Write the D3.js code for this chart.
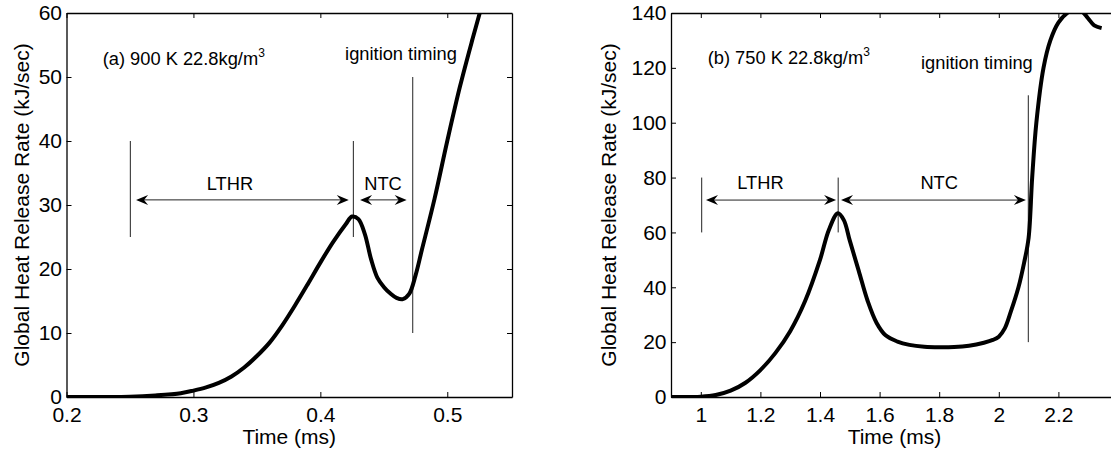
<!DOCTYPE html>
<html>
<head>
<meta charset="utf-8">
<script src="https://cdn.jsdelivr.net/npm/d3@7"></script>
<style>
body { margin: 0; background: #fff; }
svg { display: block; font-family: "Liberation Sans", Arial, sans-serif; }
</style>
</head>
<body>
<svg id="chart" width="1111" height="454"></svg>
<script>

// ---- panel (a) 900 K ----
var timeA = [0.20, 0.23, 0.25, 0.27, 0.29, 0.30, 0.31, 0.32, 0.33, 0.34, 0.35, 0.36, 0.37, 0.38, 0.39,
	0.40, 0.41, 0.42, 0.425, 0.43, 0.435, 0.44, 0.445, 0.45, 0.455, 0.46, 0.465, 0.47, 0.475, 0.48,
	0.49, 0.50, 0.51, 0.52, 0.527];
var hrrA = [0, 0, 0.05, 0.25, 0.6, 1.0, 1.5, 2.2, 3.2, 4.6, 6.4, 8.5, 11.2, 14.3, 17.6,
	21.0, 24.2, 27.0, 28.2, 27.8, 25.5, 21.5, 18.6, 17.2, 16.2, 15.5, 15.3, 16.1, 19.0, 23,
	31, 40, 48.5, 56, 61];
var xTicksA = [0.2, 0.3, 0.4, 0.5];
var xLabelsA = ["0.2", "0.3", "0.4", "0.5"];
var yTicksA = [0, 10, 20, 30, 40, 50, 60];
var yLabelsA = ["0", "10", "20", "30", "40", "50", "60"];
var markTimesA = [0.2503, 0.426, 0.4728];
var markSpansA = [[25, 40], [25, 40], [10, 50]];
var arrowsA = [[0.2548, 0.4224], [0.4313, 0.468]];
var arrowLevelA = 30.8;
var arrowTextA = ["LTHR", "NTC"];
var arrowTextPosA = [[0.3288, 32.4], [0.4494, 32.4]];
var titleA = "(a) 900 K 22.8kg/m";
var titlePosA = [0.2285, 51.9];
var ignPosA = [0.4195, 52.7];

// ---- panel (b) 750 K ----
var timeB = [0.90, 1.00, 1.05, 1.10, 1.15, 1.20, 1.25, 1.30, 1.35, 1.40, 1.43, 1.46, 1.48, 1.50, 1.53,
	1.56, 1.59, 1.62, 1.66, 1.70, 1.75, 1.80, 1.85, 1.90, 1.95, 1.98, 2.00, 2.02, 2.04, 2.066,
	2.085, 2.10, 2.112, 2.126, 2.15, 2.173, 2.20, 2.23, 2.26, 2.28, 2.30, 2.32, 2.345];
var hrrB = [0, 0.1, 0.7, 2.3, 5.2, 9.8, 16, 24, 35, 50, 61, 67, 64.5, 57, 46,
	35, 27, 22.5, 20.2, 19, 18.3, 18.1, 18.2, 18.7, 19.8, 20.8, 22, 25, 31, 40,
	49, 58, 80, 100, 120, 130, 136.5, 140, 141.5, 140.5, 138, 135.5, 134.5];
var xTicksB = [1, 1.2, 1.4, 1.6, 1.8, 2, 2.2];
var xLabelsB = ["1", "1.2", "1.4", "1.6", "1.8", "2", "2.2"];
var yTicksB = [0, 20, 40, 60, 80, 100, 120, 140];
var yLabelsB = ["0", "20", "40", "60", "80", "100", "120", "140"];
var markTimesB = [1.003, 1.461, 2.099];
var markSpansB = [[60, 80], [60, 80], [20, 110]];
var arrowsB = [[1.0174, 1.454], [1.4705, 2.091]];
var arrowLevelB = 71.8;
var arrowTextB = ["LTHR", "NTC"];
var arrowTextPosB = [[1.2003, 75.7], [1.8, 75.7]];
var titleB = "(b) 750 K 22.8kg/m";
var titlePosB = [1.023, 121.3];
var ignPosB = [1.739, 119.5];

var svg = d3.select("#chart");
svg.append("rect").attr("width", 1111).attr("height", 454).attr("fill", "#fff");

var TOP = 13, BOTTOM = 397;

function arrowHead(tx, ty, dir) {
	var L = 12, W = 5, N = 8;
	return "M" + tx + "," + ty +
		"L" + (tx - dir * L) + "," + (ty - W) +
		"L" + (tx - dir * N) + "," + ty +
		"L" + (tx - dir * L) + "," + (ty + W) + "Z";
}

function drawPanel(p) {
	var g = svg.append("g");
	var x = d3.scaleLinear().domain(p.xDomain).range([p.left, p.right]);
	var y = d3.scaleLinear().domain(p.yDomain).range([BOTTOM, TOP]);

	g.append("clipPath").attr("id", p.id)
		.append("rect")
		.attr("x", p.left).attr("y", TOP)
		.attr("width", p.right - p.left).attr("height", BOTTOM - TOP);

	// axes, ticks inward on all four sides
	var bottom = g.append("g").attr("transform", "translate(0," + BOTTOM + ")")
		.call(d3.axisBottom(x).tickValues(p.xTicks)
			.tickFormat(function(d, i) { return p.xLabels[i]; })
			.tickSizeInner(-5).tickSizeOuter(0).tickPadding(10));
	var left = g.append("g").attr("transform", "translate(" + p.left + ",0)")
		.call(d3.axisLeft(y).tickValues(p.yTicks)
			.tickFormat(function(d, i) { return p.yLabels[i]; })
			.tickSizeInner(-5).tickSizeOuter(0).tickPadding(4.5));
	var top = g.append("g").attr("transform", "translate(0," + TOP + ")")
		.call(d3.axisTop(x).tickValues(p.xTicks).tickFormat("")
			.tickSizeInner(-5).tickSizeOuter(0));
	var right = g.append("g").attr("transform", "translate(" + p.right + ",0)")
		.call(d3.axisRight(y).tickValues(p.yTicks).tickFormat("")
			.tickSizeInner(-5).tickSizeOuter(0));

	[bottom, left, top, right].forEach(function(a) {
		a.attr("font-size", 21).attr("font-family", null);
		a.select(".domain").attr("stroke-width", 1.3);
		a.selectAll(".tick line").attr("stroke-width", 1);
		a.selectAll(".tick text").attr("fill", "#000");
	});

	// axis titles
	g.append("text")
		.attr("x", (p.left + p.right) / 2).attr("y", 444)
		.attr("text-anchor", "middle").attr("font-size", 21)
		.text("Time (ms)");
	g.append("text")
		.attr("transform", "translate(" + p.yTitleX + "," + (TOP + BOTTOM) / 2 + ") rotate(-90)")
		.attr("text-anchor", "middle").attr("font-size", 21)
		.text("Global Heat Release Rate (kJ/sec)");

	// vertical markers
	g.selectAll("line.mark").data(p.markTimes).enter().append("line")
		.attr("class", "mark")
		.attr("x1", function(d) { return x(d); }).attr("x2", function(d) { return x(d); })
		.attr("y1", function(d, i) { return y(p.markSpans[i][0]); })
		.attr("y2", function(d, i) { return y(p.markSpans[i][1]); })
		.attr("stroke", "#222").attr("stroke-width", 1);

	// double arrows
	var ay = y(p.arrowLevel);
	p.arrows.forEach(function(a) {
		var x1 = x(a[0]), x2 = x(a[1]);
		g.append("line")
			.attr("x1", x1 + 6).attr("x2", x2 - 6)
			.attr("y1", ay).attr("y2", ay)
			.attr("stroke", "#222").attr("stroke-width", 1);
		g.append("path").attr("d", arrowHead(x1, ay, -1)).attr("fill", "#000");
		g.append("path").attr("d", arrowHead(x2, ay, 1)).attr("fill", "#000");
	});
	g.selectAll("text.span").data(p.arrowText).enter().append("text")
		.attr("class", "span")
		.attr("x", function(d, i) { return x(p.arrowTextPos[i][0]); })
		.attr("y", function(d, i) { return y(p.arrowTextPos[i][1]); })
		.attr("text-anchor", "middle").attr("font-size", 18.3)
		.text(function(d) { return d; });

	// condition label with superscript
	var t = g.append("text")
		.attr("x", x(p.titlePos[0])).attr("y", y(p.titlePos[1]))
		.attr("font-size", 18.3);
	t.append("tspan").text(p.title);
	t.append("tspan").attr("dy", -8).attr("font-size", 12).text("3");

	g.append("text")
		.attr("x", x(p.ignPos[0])).attr("y", y(p.ignPos[1]))
		.attr("font-size", 18.3)
		.text("ignition timing");

	// heat release curve
	var line = d3.line()
		.x(function(d) { return x(d[0]); })
		.y(function(d) { return y(d[1]); })
		.curve(d3.curveCatmullRom.alpha(0.5));
	g.append("path")
		.datum(p.time.map(function(t, i) { return [t, p.hrr[i]]; }))
		.attr("clip-path", "url(#" + p.id + ")")
		.attr("d", line)
		.attr("fill", "none").attr("stroke", "#000")
		.attr("stroke-width", 4).attr("stroke-linejoin", "round");
}

drawPanel({
	id: "clipA", left: 66.5, right: 512, yTitleX: 28.5,
	xDomain: [0.2, 0.551], yDomain: [0, 60],
	time: timeA, hrr: hrrA,
	xTicks: xTicksA, xLabels: xLabelsA, yTicks: yTicksA, yLabels: yLabelsA,
	markTimes: markTimesA, markSpans: markSpansA,
	arrows: arrowsA, arrowLevel: arrowLevelA, arrowText: arrowTextA, arrowTextPos: arrowTextPosA,
	title: titleA, titlePos: titlePosA, ignPos: ignPosA
});

drawPanel({
	id: "clipB", left: 671, right: 1118, yTitleX: 615.5,
	xDomain: [0.9, 2.4], yDomain: [0, 140],
	time: timeB, hrr: hrrB,
	xTicks: xTicksB, xLabels: xLabelsB, yTicks: yTicksB, yLabels: yLabelsB,
	markTimes: markTimesB, markSpans: markSpansB,
	arrows: arrowsB, arrowLevel: arrowLevelB, arrowText: arrowTextB, arrowTextPos: arrowTextPosB,
	title: titleB, titlePos: titlePosB, ignPos: ignPosB
});

</script>
</body>
</html>
